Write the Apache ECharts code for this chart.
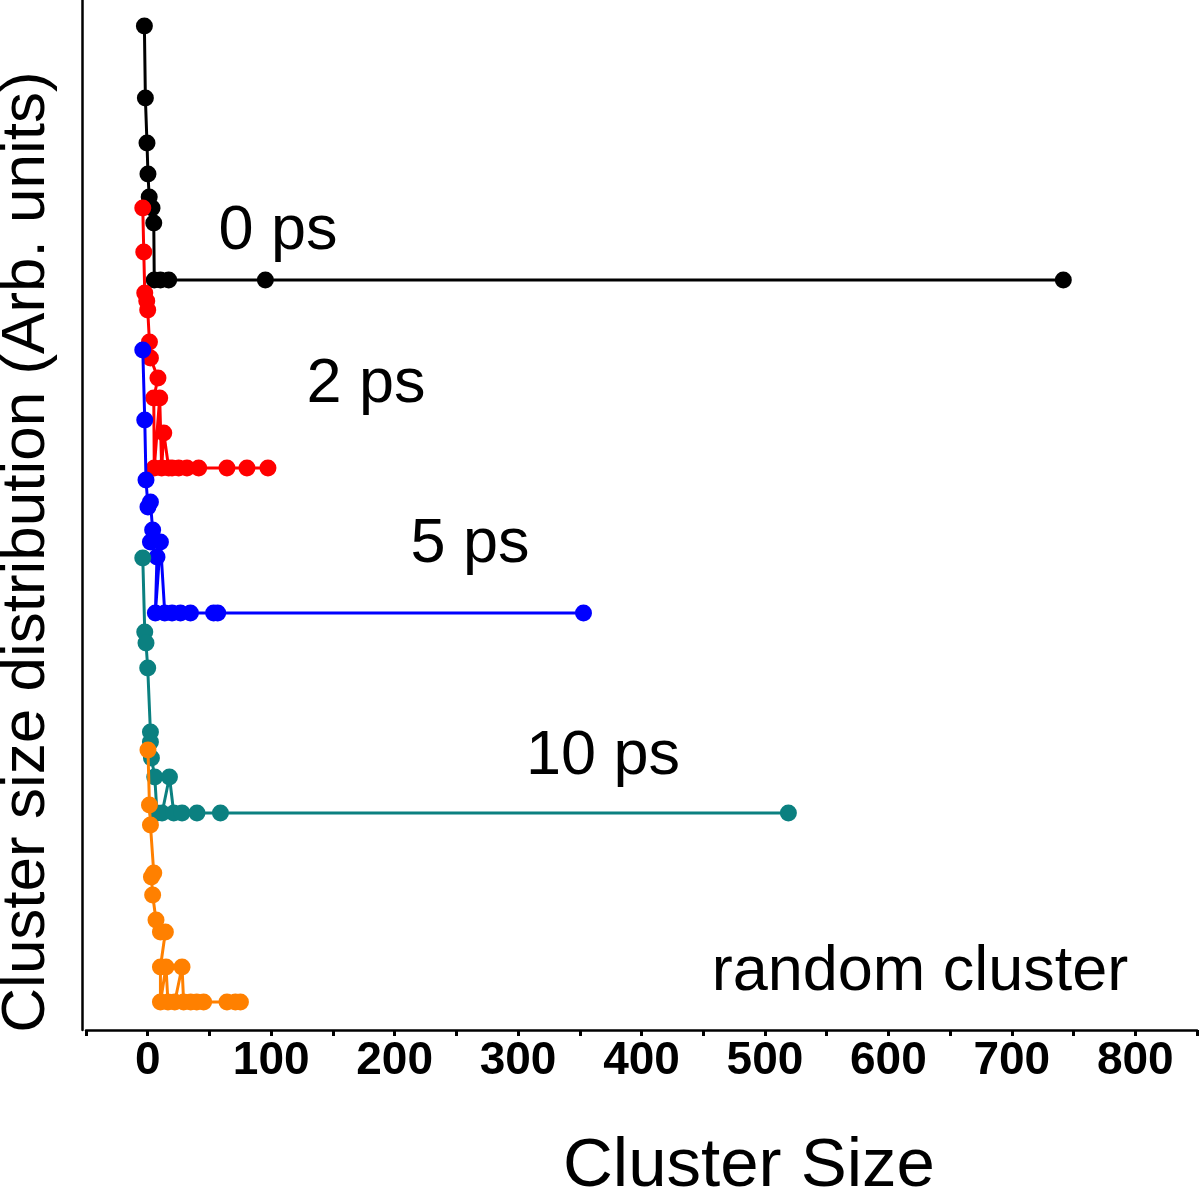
<!DOCTYPE html>
<html>
<head>
<meta charset="utf-8">
<script src="https://cdn.jsdelivr.net/npm/echarts@6/dist/echarts.min.js"></script>
<style>
  html, body { margin: 0; padding: 0; background: #fff; }
  #chart { width: 1200px; height: 1195px; }
</style>
</head>
<body>
<div id="chart"></div>
<script>
// ---- Data (cluster size, distribution in arbitrary offset units) ----
const seriesNames = ['0 ps', '2 ps', '5 ps', '10 ps', 'random cluster'];
const seriesColors = ['#000000', '#ff0000', '#0000ff', '#0b8080', '#ff8000'];

const data0ps = [
  [-2.7, 100.4], [-1.9, 93.2], [-0.6, 88.7], [0.2, 85.6], [1.2, 83.3], [3.5, 82.2],
  [4.9, 80.7], [5.3, 75.0], [10.3, 75.0], [17.0, 75.0], [95.3, 75.0], [741.7, 75.0]
];
const data2ps = [
  [-4.0, 82.2], [-3.2, 77.8], [-2.4, 73.7], [-0.8, 72.9], [0.0, 72.0], [1.4, 68.8],
  [2.2, 67.2], [8.3, 65.2], [4.9, 63.2], [5.3, 56.2], [9.7, 63.2], [11.3, 56.2],
  [13.0, 59.7], [17.0, 56.2], [19.7, 56.2], [25.1, 56.2], [31.8, 56.2], [41.3, 56.2],
  [64.2, 56.2], [80.4, 56.2], [97.4, 56.2]
];
const data5ps = [
  [-4.0, 68.0], [-2.4, 61.0], [-1.4, 55.0], [0.2, 52.3], [2.2, 52.8], [4.0, 50.0],
  [2.2, 48.8], [7.5, 47.3], [6.2, 41.7], [10.3, 48.8], [13.8, 41.7], [19.7, 41.7],
  [26.5, 41.7], [34.6, 41.7], [53.4, 41.7], [56.7, 41.7], [353.0, 41.7]
];
const data10ps = [
  [-4.0, 47.2], [-2.4, 39.8], [-1.4, 38.7], [0.0, 36.2], [2.2, 29.8], [2.2, 28.8],
  [3.0, 27.2], [5.7, 25.3], [7.5, 21.7], [11.6, 21.7], [17.6, 25.3], [21.1, 21.7],
  [27.8, 21.7], [39.9, 21.7], [58.9, 21.7], [519.0, 21.7]
];
const dataRandom = [
  [0.2, 28.0], [1.4, 22.5], [2.2, 20.5], [4.9, 15.7], [3.0, 15.3], [4.0, 13.5],
  [6.7, 11.0], [10.3, 9.8], [14.3, 9.8], [10.3, 6.3], [10.3, 2.8], [14.8, 6.3],
  [16.4, 2.8], [21.9, 2.8], [27.8, 6.3], [29.1, 2.8], [34.8, 2.8], [39.7, 2.8],
  [45.3, 2.8], [64.2, 2.8], [71.0, 2.8], [75.1, 2.8]
];
const allData = [data0ps, data2ps, data5ps, data10ps, dataRandom];

const xTickValues = [0, 100, 200, 300, 400, 500, 600, 700, 800];
const xTitle = 'Cluster Size';
const yTitle = 'Cluster size distribution (Arb. units)';

// ---- Layout (style only) ----
const labelPos = [
  { x: 278, y: 232 }, { x: 366, y: 385 }, { x: 470, y: 545 }, { x: 603, y: 757 }, { x: 920, y: 973 }
];

const chart = echarts.init(document.getElementById('chart'), null, { renderer: 'canvas' });

const option = {
  animation: false,
  backgroundColor: '#ffffff',
  grid: { left: 86, right: 2, top: 0, bottom: 165, containLabel: false },
  xAxis: {
    type: 'value',
    min: -50,
    max: 850,
    interval: 50,
    axisLine: { show: true, onZero: false, lineStyle: { color: '#000', width: 2.5 } },
    axisTick: { show: true, length: 6, lineStyle: { color: '#000', width: 3 } },
    splitLine: { show: false },
    axisLabel: {
      show: true,
      margin: 8,
      color: '#000',
      fontFamily: "'Liberation Sans Narrow', 'Arial Narrow', 'Liberation Sans', sans-serif",
      fontWeight: 'bold',
      fontSize: 46,
      formatter: function (v) { return xTickValues.indexOf(v) >= 0 ? String(v) : ''; }
    }
  },
  yAxis: {
    type: 'value',
    min: 0,
    max: 103,
    offset: 4,
    axisLine: { show: true, onZero: false, lineStyle: { color: '#000', width: 2.5 } },
    axisTick: { show: false },
    axisLabel: { show: false },
    splitLine: { show: false }
  },
  series: allData.map(function (d, i) {
    return {
      name: seriesNames[i],
      type: 'line',
      data: d,
      symbol: 'circle',
      symbolSize: 17,
      showSymbol: true,
      lineStyle: { color: seriesColors[i], width: 3 },
      itemStyle: { color: seriesColors[i] },
      z: 2 + i
    };
  }),
  graphic: [
    {
      type: 'text',
      x: 27, y: 552,
      rotation: Math.PI / 2,
      style: {
        text: yTitle,
        x: 0, y: 0,
        align: 'center', verticalAlign: 'middle',
        fontFamily: "'Liberation Sans', Arial, sans-serif",
        fontSize: 62, fill: '#000'
      }
    },
    {
      type: 'text',
      x: 749, y: 1167,
      style: {
        text: xTitle,
        align: 'center', verticalAlign: 'middle',
        fontFamily: "'Liberation Sans', Arial, sans-serif",
        fontSize: 69, fill: '#000'
      }
    }
  ].concat(seriesNames.map(function (n, i) {
    return {
      type: 'text',
      x: labelPos[i].x, y: labelPos[i].y,
      style: {
        text: n,
        align: 'center', verticalAlign: 'middle',
        fontFamily: "'Liberation Sans', Arial, sans-serif",
        fontSize: 63, fill: '#000'
      }
    };
  }))
};

chart.setOption(option);
</script>
</body>
</html>
